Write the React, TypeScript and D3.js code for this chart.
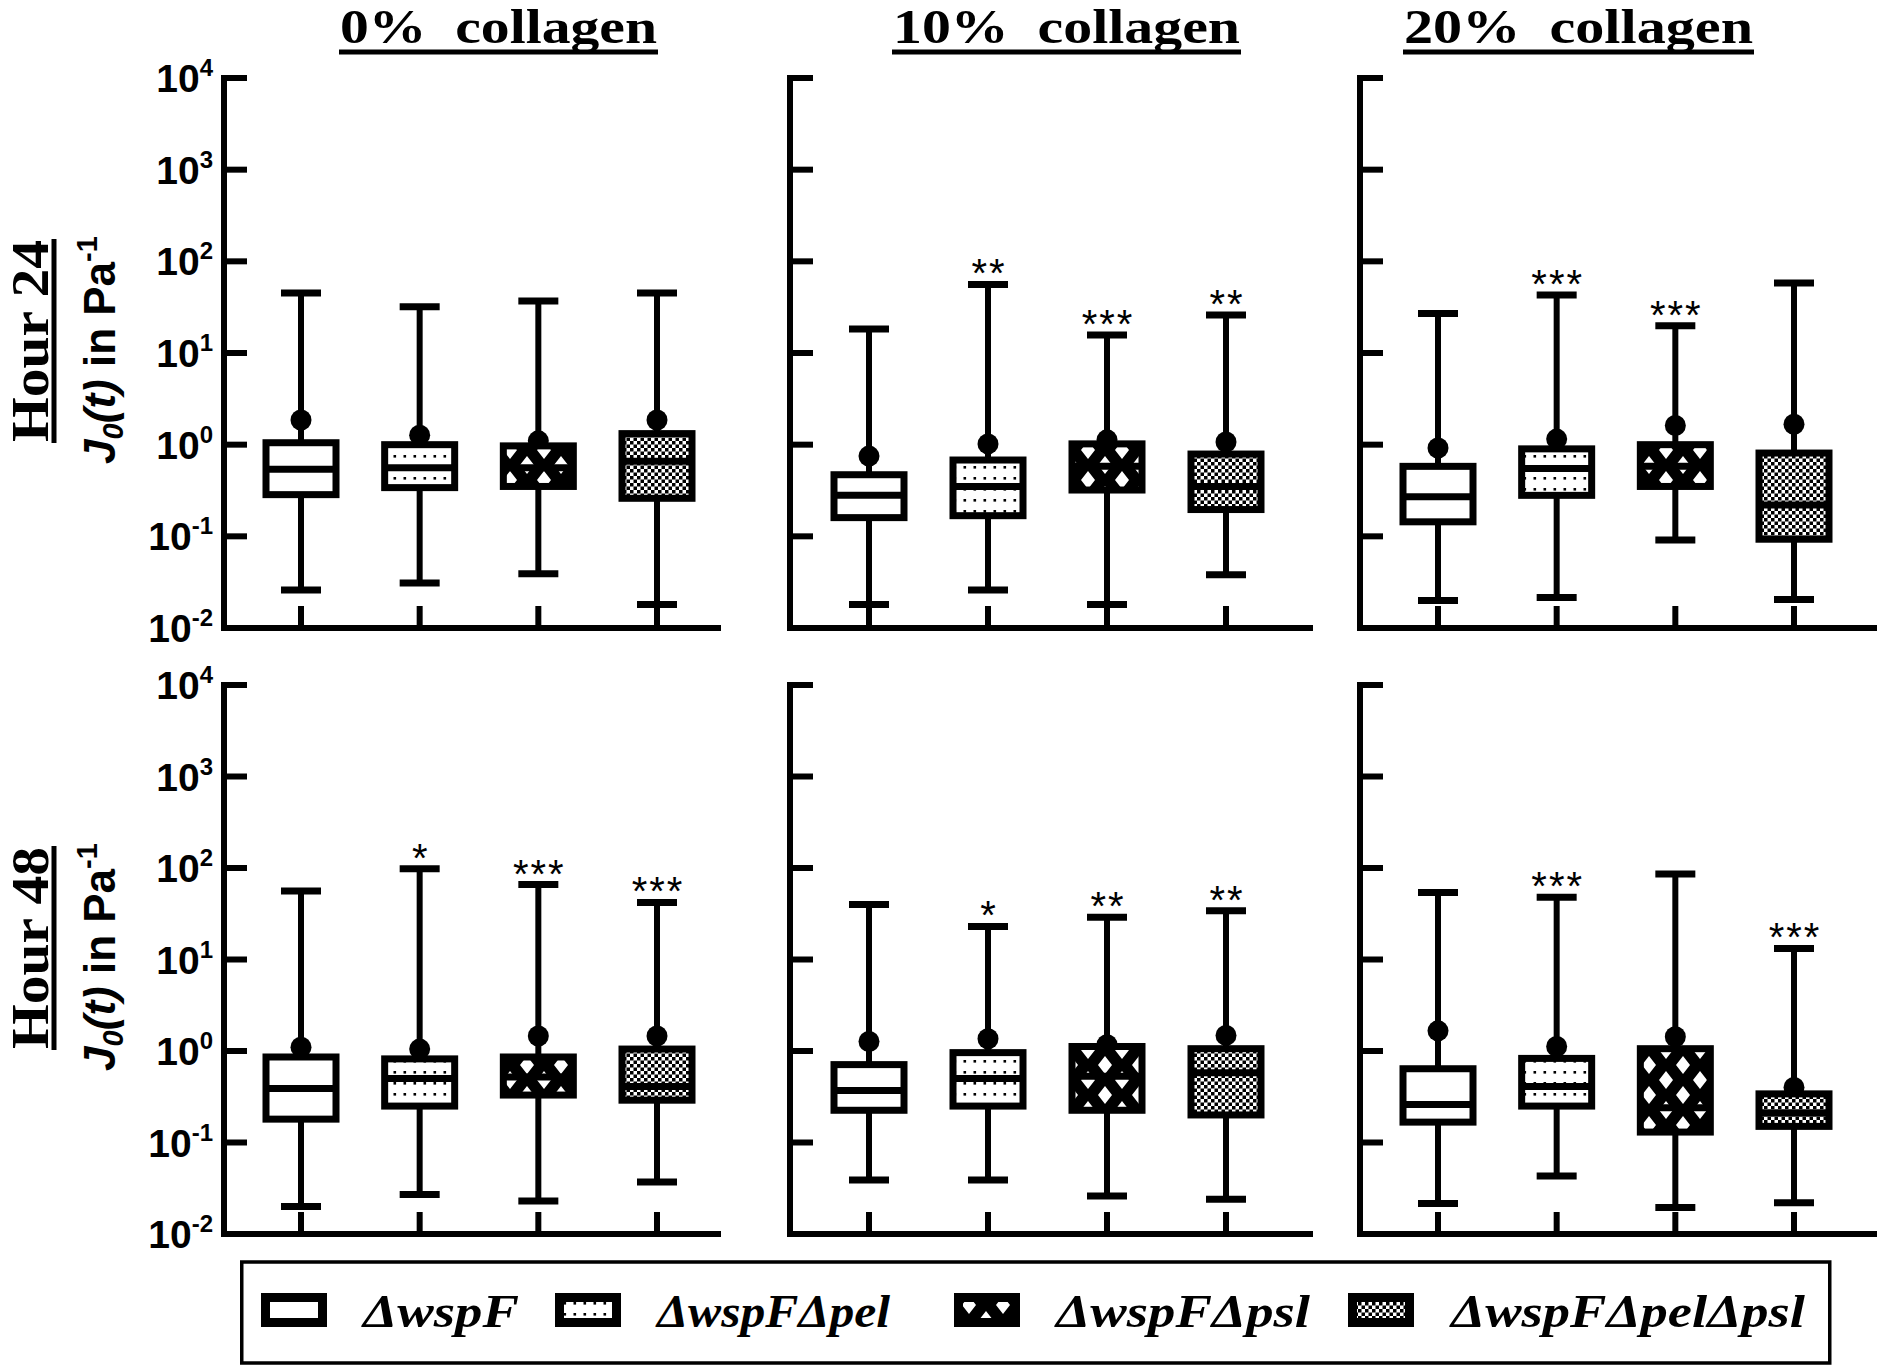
import React from "react";
import * as d3 from "d3";

// ---------- data ----------
const strains = ["ΔwspF", "ΔwspFΔpel", "ΔwspFΔpsl", "ΔwspFΔpelΔpsl"];
const collagenLevels = ["0%  collagen", "10%  collagen", "20%  collagen"];
const hourLabels = ["Hour 24", "Hour 48"];
const tickExponents = [4, 3, 2, 1, 0, -1, -2];

// indexed [hour][collagen][strain]
const whiskerMax = [
  [[45, 32, 37, 45], [18.3, 56, 15.7, 26], [27, 43, 19.8, 58]],
  [[56, 98, 66, 42], [40, 23, 29, 34], [54, 48, 86, 13.2]],
];
const q3Values = [
  [[1.05, 1.0, 0.97, 1.32], [0.47, 0.68, 1.02, 0.79], [0.58, 0.9, 1.0, 0.81]],
  [[0.86, 0.82, 0.86, 1.05], [0.71, 0.96, 1.12, 1.06], [0.64, 0.83, 1.06, 0.34]],
];
const medianValues = [
  [[0.54, 0.56, 0.56, 0.66], [0.28, 0.35, 0.58, 0.35], [0.27, 0.55, 0.58, 0.22]],
  [[0.39, 0.5, 0.52, 0.41], [0.37, 0.5, 0.53, 0.58], [0.26, 0.41, 0.24, 0.21]],
];
const q1Values = [
  [[0.285, 0.34, 0.35, 0.26], [0.16, 0.168, 0.32, 0.196], [0.144, 0.28, 0.35, 0.093]],
  [[0.18, 0.25, 0.33, 0.29], [0.225, 0.25, 0.225, 0.2], [0.167, 0.25, 0.13, 0.15]],
];
const whiskerMin = [
  [[0.026, 0.031, 0.039, 0.018], [0.018, 0.026, 0.018, 0.038], [0.02, 0.0215, 0.091, 0.0205]],
  [[0.02, 0.027, 0.023, 0.037], [0.039, 0.039, 0.026, 0.024], [0.0215, 0.043, 0.0195, 0.022]],
];
const meanValues = [
  [[1.86, 1.27, 1.1, 1.86], [0.75, 1.02, 1.13, 1.07], [0.92, 1.15, 1.62, 1.67]],
  [[1.1, 1.05, 1.46, 1.46], [1.27, 1.36, 1.17, 1.48], [1.66, 1.12, 1.43, 0.4]],
];
const significance = [
  [["", "", "", ""], ["", "**", "***", "**"], ["", "***", "***", ""]],
  [["", "*", "***", "***"], ["", "*", "**", "**"], ["", "***", "", "***"]],
];

// ---------- layout ----------
const W = 1880;
const H = 1365;
const rows = [
  { yTop: 78, yBot: 628, hourCy: 341, jCy: 350 },
  { yTop: 685, yBot: 1234, hourCy: 948, jCy: 957 },
];
const cols = [
  { axisX: 224, xEnd: 718, c0: 301, c3: 657, titleCx: 498.5, titleW: 317 },
  { axisX: 790, xEnd: 1310, c0: 869, c3: 1226, titleCx: 1066.5, titleW: 347 },
  { axisX: 1360, xEnd: 1874, c0: 1438, c3: 1794, titleCx: 1578.5, titleW: 349 },
];
const fills = ["#fff", "url(#patPel)", "url(#patPsl)", "url(#patChk)"];
const legendIconX = [261, 555, 954, 1348];
const legendTextX = [363, 657, 1056, 1451];
const legendTextW = [156, 233, 254, 354];

const SANS = "'Liberation Sans', Arial, Helvetica, sans-serif";
const SERIF = "'Liberation Serif', 'Times New Roman', Times, serif";

function Panel({ r, c }: { r: number; c: number }) {
  const row = rows[r];
  const col = cols[c];
  const y = d3.scaleLog().domain([1e-2, 1e4]).range([row.yBot, row.yTop]);
  const x = d3.scalePoint<string>().domain(strains).range([col.c0, col.c3]);
  const boxW = 70;
  const capW = 40;
  const tickLen = 23;
  return (
    <g>
      <path
        d={`M${col.axisX},${row.yTop} V${row.yBot} H${col.xEnd}`}
        fill="none"
        stroke="#000"
        strokeWidth={6}
        strokeLinejoin="miter"
        strokeLinecap="square"
      />
      {tickExponents.map((e) => (
        <line
          key={"yt" + e}
          x1={col.axisX}
          x2={col.axisX + tickLen}
          y1={y(Math.pow(10, e))}
          y2={y(Math.pow(10, e))}
          stroke="#000"
          strokeWidth={6}
        />
      ))}
      {c === 0 &&
        tickExponents.map((e) => (
          <text
            key={"yl" + e}
            x={col.axisX - 11}
            y={y(Math.pow(10, e)) + 14}
            textAnchor="end"
            fontFamily={SANS}
            fontWeight="bold"
            fontSize={39}
          >
            10
            <tspan dy={-16} fontSize={24}>
              {e < 0 ? "-" + Math.abs(e) : String(e)}
            </tspan>
          </text>
        ))}
      {strains.map((s) => (
        <line
          key={"xt" + s}
          x1={x(s)}
          x2={x(s)}
          y1={row.yBot}
          y2={row.yBot - 22}
          stroke="#000"
          strokeWidth={6}
        />
      ))}
      {strains.map((s, i) => {
        const cx = x(s) as number;
        const yMax = y(whiskerMax[r][c][i]);
        const yMin = y(whiskerMin[r][c][i]);
        const yQ3 = y(q3Values[r][c][i]);
        const yQ1 = y(q1Values[r][c][i]);
        const yMed = y(medianValues[r][c][i]);
        const yMean = y(meanValues[r][c][i]);
        return (
          <g key={"b" + s}>
            <line x1={cx} x2={cx} y1={yMax} y2={yMin} stroke="#000" strokeWidth={6} />
            <line x1={cx - capW / 2} x2={cx + capW / 2} y1={yMax} y2={yMax} stroke="#000" strokeWidth={7} />
            <line x1={cx - capW / 2} x2={cx + capW / 2} y1={yMin} y2={yMin} stroke="#000" strokeWidth={7} />
            <circle cx={cx} cy={yMean} r={10.5} fill="#000" />
            <rect
              x={cx - boxW / 2}
              y={yQ3}
              width={boxW}
              height={yQ1 - yQ3}
              fill={fills[i]}
              stroke="#000"
              strokeWidth={7}
            />
            <line x1={cx - boxW / 2} x2={cx + boxW / 2} y1={yMed} y2={yMed} stroke="#000" strokeWidth={7} />
            {significance[r][c][i] && (
              <text
                x={cx + 1}
                y={yMax + 3}
                textAnchor="middle"
                fontFamily={SANS}
                fontSize={40}
                letterSpacing={2}
              >
                {significance[r][c][i]}
              </text>
            )}
          </g>
        );
      })}
    </g>
  );
}

export default function App() {
  return (
    <svg
      width={W}
      height={H}
      viewBox={`0 0 ${W} ${H}`}
      style={{ position: "absolute", left: 0, top: 0, background: "#fff" }}
    >
      <defs>
        <pattern id="patPel" patternUnits="userSpaceOnUse" width={10} height={11}>
          <rect width={10} height={11} fill="#fff" />
          <rect x={3.5} y={4} width={2.6} height={2.6} fill="#000" />
        </pattern>
        <pattern id="patPsl" patternUnits="userSpaceOnUse" width={34} height={30}>
          <rect width={34} height={30} fill="#000" />
          <path
            d="M17,6 L24,15 L17,24 L10,15 Z M0,-9 L7,0 L0,9 L-7,0 Z M34,-9 L41,0 L34,9 L27,0 Z M0,21 L7,30 L0,39 L-7,30 Z M34,21 L41,30 L34,39 L27,30 Z"
            fill="#fff"
          />
        </pattern>
        <pattern id="patChk" patternUnits="userSpaceOnUse" width={7} height={7}>
          <rect width={7} height={7} fill="#fff" />
          <rect x={0} y={0} width={3.5} height={3.5} fill="#000" />
          <rect x={3.5} y={3.5} width={3.5} height={3.5} fill="#000" />
        </pattern>
      </defs>
      <rect width={W} height={H} fill="#fff" />

      {collagenLevels.map((t, c) => (
        <g key={"t" + c}>
          <text
            x={cols[c].titleCx}
            y={43}
            textAnchor="middle"
            fontFamily={SERIF}
            fontWeight="bold"
            fontSize={48}
            textLength={cols[c].titleW}
            lengthAdjust="spacingAndGlyphs"
            style={{ whiteSpace: "pre" }}
          >
            {t}
          </text>
          <line
            x1={cols[c].titleCx - cols[c].titleW / 2 - 1}
            x2={cols[c].titleCx + cols[c].titleW / 2 + 1}
            y1={52}
            y2={52}
            stroke="#000"
            strokeWidth={5}
          />
        </g>
      ))}

      {hourLabels.map((h, r) => (
        <g key={"h" + r}>
          <text
            transform={`translate(48,${rows[r].hourCy}) rotate(-90)`}
            textAnchor="middle"
            fontFamily={SERIF}
            fontWeight="bold"
            fontSize={52}
            textLength={202}
            lengthAdjust="spacingAndGlyphs"
          >
            {h}
          </text>
          <line x1={54} x2={54} y1={rows[r].hourCy - 102} y2={rows[r].hourCy + 102} stroke="#000" strokeWidth={5} />
          <text
            transform={`translate(115,${rows[r].jCy}) rotate(-90)`}
            textAnchor="middle"
            fontFamily={SANS}
            fontWeight="bold"
            fontSize={44}
          >
            <tspan fontStyle="italic">J</tspan>
            <tspan fontStyle="italic" fontSize={29} dy={8}>
              0
            </tspan>
            <tspan fontStyle="italic" dy={-8}>
              (t)
            </tspan>
            <tspan> in Pa</tspan>
            <tspan fontSize={29} dy={-18}>
              -1
            </tspan>
          </text>
        </g>
      ))}

      {rows.map((_, r) => cols.map((__, c) => <Panel key={`p${r}${c}`} r={r} c={c} />))}

      <rect x={241.75} y={1262} width={1588} height={101} fill="none" stroke="#000" strokeWidth={3.5} />
      {strains.map((s, i) => (
        <g key={"lg" + i}>
          <rect
            x={legendIconX[i] + 4.5}
            y={1297.5}
            width={57}
            height={25}
            fill={fills[i]}
            stroke="#000"
            strokeWidth={9}
          />
          <text
            x={legendTextX[i]}
            y={1327}
            fontFamily={SERIF}
            fontWeight="bold"
            fontStyle="italic"
            fontSize={46}
            textLength={legendTextW[i]}
            lengthAdjust="spacingAndGlyphs"
          >
            {s}
          </text>
        </g>
      ))}
    </svg>
  );
}
